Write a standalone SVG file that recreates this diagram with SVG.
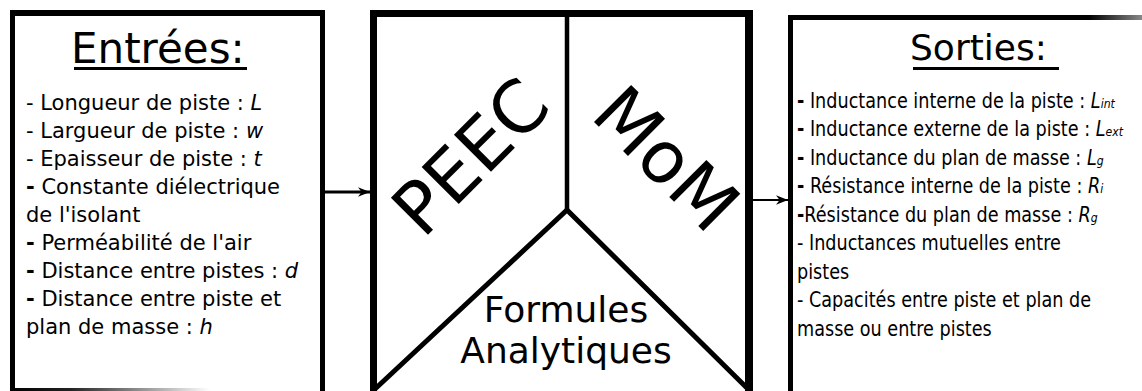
<svg xmlns="http://www.w3.org/2000/svg" width="1142" height="391" viewBox="0 0 1142 391">
  <style>
    text { font-family: "DejaVu Sans", Verdana, sans-serif; fill: #000; }
    .title { font-size: 42px; }
    .list { font-size: 21px; }
    .big { font-size: 72px; }
    .mid { font-size: 36px; }
    .it { font-style: italic; }
    .b { font-weight: bold; }
    .edge { fill: #000; }
    .wire { stroke: #000; fill: none; }
  </style>
  <defs>
    <linearGradient id="fadeX" x1="0" y1="0" x2="1" y2="0">
      <stop offset="0" stop-color="#000"/>
      <stop offset="0.3" stop-color="#222"/>
      <stop offset="1" stop-color="#fff"/>
    </linearGradient>
    <linearGradient id="fadeR" x1="0" y1="0" x2="1" y2="0">
      <stop offset="0" stop-color="#000"/>
      <stop offset="0.85" stop-color="#000"/>
      <stop offset="1" stop-color="#888"/>
    </linearGradient>
    <marker id="arr" viewBox="0 0 10 8" refX="10" refY="4" markerWidth="4" markerHeight="3.2" orient="auto" markerUnits="strokeWidth">
      <path d="M0,0 L10,4 L0,8 L3,4 Z" fill="#000"/>
    </marker>
    <marker id="arr2" viewBox="0 0 10 8" refX="10" refY="4" markerWidth="6" markerHeight="4.8" orient="auto" markerUnits="strokeWidth">
      <path d="M0,0 L10,4 L0,8 L3,4 Z" fill="#000"/>
    </marker>
  </defs>

  <g id="inputs">
    <rect class="edge" x="10" y="10" width="315" height="6"/>
    <rect class="edge" x="10" y="10" width="5" height="381"/>
    <rect class="edge" x="320" y="10" width="5" height="381"/>
    <rect x="10" y="388" width="200" height="3" fill="url(#fadeX)"/>
    <text class="title" x="71" y="63">Entrées:</text>
    <rect class="edge" x="74" y="67" width="173" height="3"/>
    <g class="list">
      <text x="26" y="110">- Longueur de piste : <tspan class="it">L</tspan></text>
      <text x="26" y="138">- Largueur de piste : <tspan class="it">w</tspan></text>
      <text x="26" y="166">- Epaisseur de piste : <tspan class="it">t</tspan></text>
      <text x="26" y="194"><tspan class="b">-</tspan> Constante diélectrique</text>
      <text x="26" y="222">de l'isolant</text>
      <text x="26" y="250"><tspan class="b">-</tspan> Perméabilité de l'air</text>
      <text x="26" y="278"><tspan class="b">-</tspan> Distance entre pistes : <tspan class="it">d</tspan></text>
      <text x="26" y="306"><tspan class="b">-</tspan> Distance entre piste et</text>
      <text x="26" y="334">plan de masse : <tspan class="it">h</tspan></text>
    </g>
  </g>

  <g id="methods">
    <rect class="edge" x="370" y="10" width="383" height="7"/>
    <rect class="edge" x="370" y="10" width="7" height="381"/>
    <rect class="edge" x="745" y="10" width="8" height="381"/>
    <line class="wire" x1="567" y1="14" x2="567" y2="210" stroke-width="4.5"/>
    <polyline class="wire" points="375,389 567,210 748,389" stroke-width="5"/>
    <text class="big" transform="translate(470,156) rotate(-45)" x="0" y="26" text-anchor="middle">PEEC</text>
    <text class="big" transform="translate(667,158) rotate(45)" x="0" y="26" text-anchor="middle">MoM</text>
    <text class="mid" x="566" y="322" text-anchor="middle">Formules</text>
    <text class="mid" x="566" y="363" text-anchor="middle">Analytiques</text>
  </g>

  <g id="outputs">
    <rect x="788" y="15" width="354" height="5" fill="url(#fadeR)"/>
    <rect class="edge" x="788" y="15" width="5" height="376"/>
    <text x="910" y="60" style="font-size:36px">Sorties:</text>
    <rect class="edge" x="913" y="67" width="146" height="3"/>
    <g class="list" transform="translate(797,0) scale(0.84,1)">
      <text x="0" y="108"><tspan class="b">-</tspan> Inductance interne de la piste : <tspan class="it">L</tspan><tspan class="it" style="font-size:13px">int</tspan></text>
      <text x="0" y="136.5"><tspan class="b">-</tspan> Inductance externe de la piste : <tspan class="it">L</tspan><tspan class="it" style="font-size:13px">ext</tspan></text>
      <text x="0" y="165"><tspan class="b">-</tspan> Inductance du plan de masse : <tspan class="it">L</tspan><tspan class="it" style="font-size:13px">g</tspan></text>
      <text x="0" y="193.5"><tspan class="b">-</tspan> Résistance interne de la piste : <tspan class="it">R</tspan><tspan class="it" style="font-size:13px">i</tspan></text>
      <text x="0" y="222"><tspan class="b">-</tspan>Résistance du plan de masse : <tspan class="it">R</tspan><tspan class="it" style="font-size:13px">g</tspan></text>
      <text x="0" y="250.5">- Inductances mutuelles entre</text>
      <text x="0" y="279">pistes</text>
      <text x="0" y="307.5">- Capacités entre piste et plan de</text>
      <text x="0" y="336">masse ou entre pistes</text>
    </g>
  </g>

  <g id="connectors">
    <line class="wire" x1="325" y1="192" x2="370" y2="192" stroke-width="3" marker-end="url(#arr)"/>
    <line class="wire" x1="753" y1="200" x2="788" y2="200" stroke-width="2" marker-end="url(#arr2)"/>
  </g>
</svg>
